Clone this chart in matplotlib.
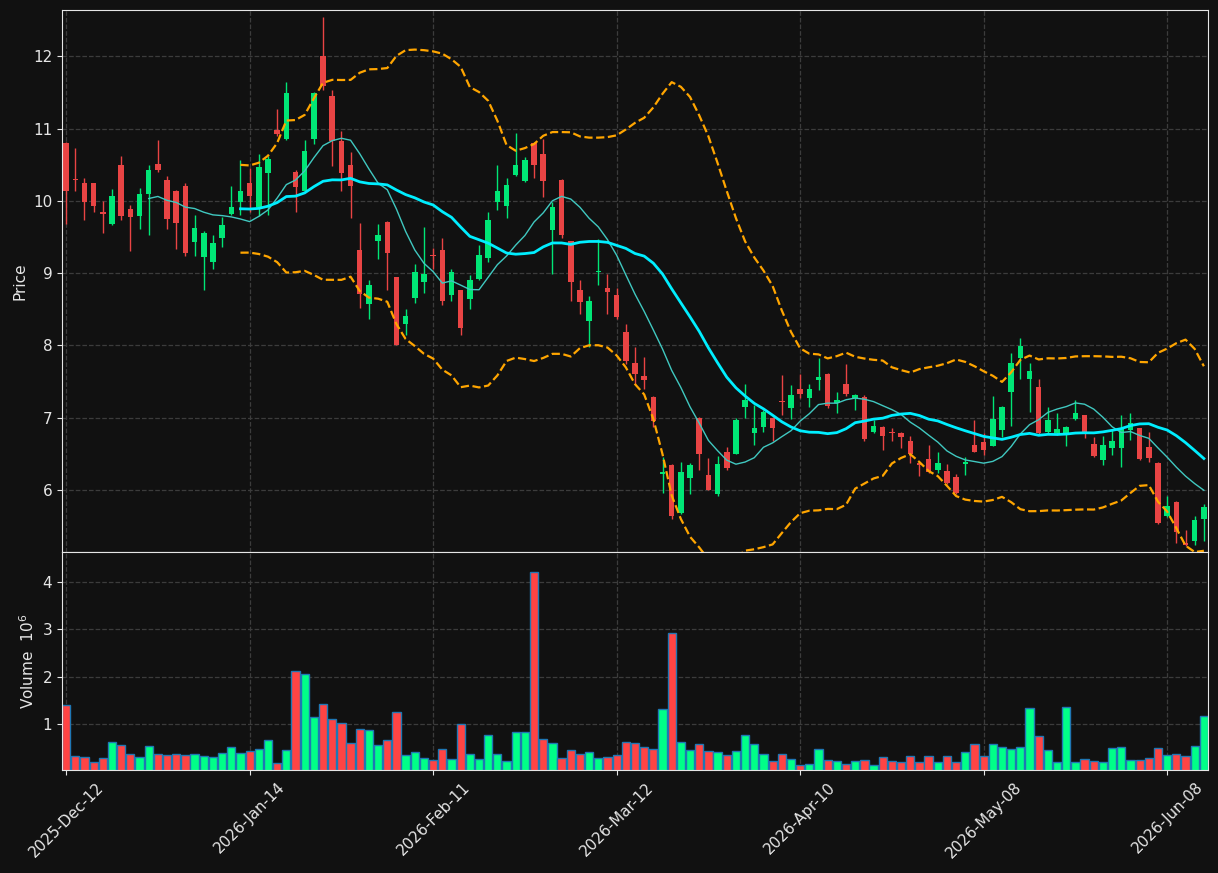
import numpy as np
import pandas as pd
import matplotlib
matplotlib.use("Agg")
import matplotlib.pyplot as plt

# OHLC (one row per trading day)
opens = [10.80, 10.30, 10.25, 10.24, 9.85, 9.68, 10.50, 9.89, 9.79, 10.09,
         10.51, 10.29, 10.14, 10.20, 9.43, 9.22, 9.15, 9.48, 9.82, 9.99,
         10.24, 9.92, 10.39, 10.98, 10.85, 10.40, 10.13, 10.86, 12.01, 11.45,
         10.83, 10.50, 9.32, 8.57, 9.44, 9.71, 8.94, 8.30, 8.65, 8.88,
         9.24, 9.32, 8.70, 8.76, 8.64, 8.92, 9.21, 9.98, 9.93, 10.36,
         10.28, 10.80, 10.65, 9.59, 10.29, 9.44, 8.76, 8.34, 9.02, 8.80,
         8.69, 8.19, 7.75, 7.57, 7.29, 6.22, 6.35, 5.68, 6.16, 7.00,
         6.21, 5.94, 6.53, 6.50, 7.14, 6.78, 6.87, 7.00, 7.22, 7.13,
         7.40, 7.27, 7.52, 7.61, 7.20, 7.47, 7.27, 7.29, 6.80, 6.87,
         6.80, 6.79, 6.68, 6.36, 6.42, 6.27, 6.26, 6.18, 6.36, 6.62,
         6.66, 6.61, 6.83, 7.35, 7.82, 7.53, 7.42, 6.80, 6.78, 6.79,
         6.98, 7.03, 6.63, 6.41, 6.58, 6.58, 6.83, 6.85, 6.59, 6.37,
         5.64, 5.83, 5.27, 5.29, 5.59]
highs = [10.82, 10.73, 10.32, 10.25, 10.00, 10.16, 10.62, 9.94, 10.18, 10.50,
         10.84, 10.34, 10.15, 10.24, 9.80, 9.58, 9.53, 9.77, 10.20, 10.57,
         10.46, 10.65, 10.62, 11.27, 11.64, 10.43, 10.84, 11.50, 12.54, 11.53,
         10.96, 10.68, 9.69, 8.91, 9.68, 9.72, 8.95, 8.50, 9.12, 9.64,
         9.34, 9.48, 9.05, 8.77, 8.97, 9.39, 9.85, 10.50, 10.32, 10.94,
         10.60, 10.81, 10.85, 9.99, 10.30, 9.45, 8.91, 8.68, 9.47, 8.99,
         8.80, 8.30, 7.98, 7.84, 7.30, 6.45, 6.36, 6.39, 6.37, 7.01,
         6.44, 6.47, 6.59, 7.00, 7.46, 7.18, 7.10, 7.01, 7.59, 7.45,
         7.60, 7.46, 7.82, 7.62, 7.35, 7.74, 7.32, 7.31, 6.97, 6.88,
         6.85, 6.80, 6.75, 6.38, 6.62, 6.52, 6.36, 6.22, 6.45, 6.97,
         6.79, 7.30, 7.16, 7.89, 8.10, 7.76, 7.53, 7.15, 7.07, 6.88,
         7.24, 7.04, 6.73, 6.75, 6.83, 7.04, 7.07, 6.86, 6.80, 6.38,
         5.92, 5.84, 5.45, 5.64, 5.80]
lows = [9.68, 10.13, 9.73, 9.84, 9.56, 9.67, 9.73, 9.31, 9.61, 9.53,
        10.40, 9.61, 9.33, 9.23, 9.23, 8.77, 9.05, 9.36, 9.80, 9.80,
        9.84, 9.79, 9.80, 10.90, 10.84, 9.84, 10.12, 10.78, 11.53, 10.48,
        10.13, 9.76, 8.51, 8.37, 9.20, 8.77, 8.00, 8.14, 8.59, 8.73,
        9.05, 8.56, 8.62, 8.14, 8.50, 8.90, 9.15, 9.87, 9.76, 10.34,
        10.26, 10.32, 10.05, 8.99, 9.48, 8.62, 8.44, 7.98, 8.83, 8.44,
        8.36, 7.74, 7.47, 7.40, 6.87, 5.95, 5.60, 5.67, 5.94, 6.27,
        6.00, 5.91, 6.27, 6.49, 7.00, 6.62, 6.80, 6.68, 7.04, 6.98,
        7.27, 7.15, 7.38, 7.13, 7.06, 7.30, 7.11, 6.67, 6.79, 6.55,
        6.68, 6.58, 6.37, 6.19, 6.24, 6.24, 6.08, 5.94, 6.21, 6.52,
        6.48, 6.60, 6.73, 6.88, 7.54, 7.08, 6.77, 6.79, 6.76, 6.61,
        6.97, 6.72, 6.46, 6.34, 6.48, 6.31, 6.69, 6.41, 6.39, 5.53,
        5.63, 5.27, 5.22, 5.24, 5.29]
closes = [10.13, 10.29, 9.98, 9.93, 9.82, 10.07, 9.79, 9.77, 10.10, 10.43,
          10.42, 9.75, 9.69, 9.28, 9.63, 9.56, 9.42, 9.67, 9.92, 10.14,
          10.06, 10.47, 10.58, 10.93, 11.49, 10.19, 10.69, 11.49, 11.59, 10.83,
          10.39, 10.20, 8.71, 8.83, 9.52, 9.28, 8.01, 8.40, 9.02, 8.99,
          9.23, 8.62, 9.02, 8.24, 8.91, 9.25, 9.74, 10.14, 10.22, 10.50,
          10.56, 10.49, 10.28, 9.91, 9.52, 8.88, 8.60, 8.62, 9.03, 8.74,
          8.39, 7.78, 7.61, 7.52, 6.95, 6.25, 5.64, 6.25, 6.35, 6.49,
          6.00, 6.36, 6.30, 6.96, 7.25, 6.85, 7.08, 6.86, 7.21, 7.31,
          7.33, 7.39, 7.56, 7.16, 7.24, 7.33, 7.31, 6.70, 6.88, 6.75,
          6.78, 6.73, 6.49, 6.35, 6.25, 6.37, 6.09, 5.95, 6.38, 6.53,
          6.55, 6.98, 7.15, 7.75, 7.99, 7.65, 6.78, 6.96, 6.84, 6.87,
          7.06, 6.80, 6.47, 6.62, 6.68, 6.85, 6.92, 6.42, 6.44, 5.54,
          5.78, 5.42, 5.23, 5.58, 5.76]
# volume in millions
volumes = [1.41, 0.34, 0.32, 0.22, 0.29, 0.63, 0.57, 0.39, 0.32, 0.54,
           0.38, 0.36, 0.38, 0.36, 0.38, 0.34, 0.32, 0.40, 0.53, 0.40,
           0.44, 0.48, 0.68, 0.19, 0.46, 2.13, 2.07, 1.16, 1.42, 1.12,
           1.04, 0.61, 0.91, 0.89, 0.57, 0.68, 1.27, 0.36, 0.42, 0.29,
           0.25, 0.48, 0.27, 1.01, 0.39, 0.27, 0.78, 0.39, 0.24, 0.84,
           0.84, 4.20, 0.70, 0.61, 0.29, 0.46, 0.38, 0.42, 0.29, 0.32,
           0.36, 0.63, 0.61, 0.53, 0.48, 1.33, 2.92, 0.63, 0.46, 0.59,
           0.44, 0.42, 0.36, 0.44, 0.78, 0.59, 0.38, 0.23, 0.38, 0.27,
           0.15, 0.17, 0.48, 0.25, 0.23, 0.17, 0.23, 0.25, 0.15, 0.32,
           0.23, 0.21, 0.34, 0.21, 0.34, 0.21, 0.34, 0.21, 0.42, 0.59,
           0.34, 0.59, 0.53, 0.48, 0.53, 1.35, 0.76, 0.46, 0.21, 1.37,
           0.21, 0.27, 0.23, 0.21, 0.51, 0.53, 0.25, 0.25, 0.29, 0.51,
           0.36, 0.38, 0.34, 0.55, 1.18]
tick_labels = ["2025-Dec-12", "2026-Jan-14", "2026-Feb-11", "2026-Mar-12",
               "2026-Apr-10", "2026-May-08", "2026-Jun-08"]

bg = "#111111"
fg = "#e6e6e6"
up_c, dn_c = "#00e676", "#e94444"
vup_c, vdn_c = "#00ff88", "#ff4444"

df = pd.DataFrame({"o": opens, "h": highs, "l": lows, "c": closes, "v": volumes})
x = np.arange(len(df))
up = df.c >= df.o
ma10 = df.c.rolling(10).mean()
ma20 = df.c.rolling(20).mean()
sd20 = df.c.rolling(20).std(ddof=0)

fig = plt.figure(figsize=(12.18, 8.73), dpi=100, facecolor=bg)
ax = fig.add_axes([62/1218, 1-552/873, 1146/1218, 542/873])
axv = fig.add_axes([62/1218, 1-770/873, 1146/1218, 218/873], sharex=ax)

for a in (ax, axv):
    a.set_facecolor(bg)
    for s in a.spines.values():
        s.set_color(fg)
    a.tick_params(colors=fg, labelsize=11)
    a.grid(True, color="#3c3c3c", linestyle="--", linewidth=0.9)
    a.set_axisbelow(True)

# candles
cols = np.where(up, up_c, dn_c)
ax.vlines(x, df.l, df.h, colors=cols, linewidth=1)
body = np.maximum((df.c - df.o).abs(), 0.015)
ax.bar(x, body, bottom=np.minimum(df.o, df.c), width=0.6, color=cols, linewidth=0)

ax.plot(x, ma10, color="#40c8c0", linewidth=1)
ax.plot(x, ma20, color="#00eeff", linewidth=2)
ax.plot(x, ma20 + 2*sd20, color="#ffa500", linewidth=1.6, linestyle="--")
ax.plot(x, ma20 - 2*sd20, color="#ffa500", linewidth=1.6, linestyle="--")

ax.set_ylim(5.14, 12.64)
ax.set_xlim(-0.45, len(df) - 0.55)
ax.set_ylabel("Price", color=fg, fontsize=11)
ax.tick_params(labelbottom=False)

vcols = np.where(up, vup_c, vdn_c)
axv.bar(x, df.v, width=0.9, color=vcols, edgecolor="#1f77b4", linewidth=1)
axv.set_ylim(0.3*min(volumes), 1.1*max(volumes))
axv.set_yticks([1, 2, 3, 4])
axv.set_ylabel("Volume  $10^{6}$", color=fg, fontsize=11)
axv.set_xticks(range(0, len(df), 20))
axv.set_xticklabels(tick_labels, rotation=45)

fig.savefig("out.png", facecolor=bg)
